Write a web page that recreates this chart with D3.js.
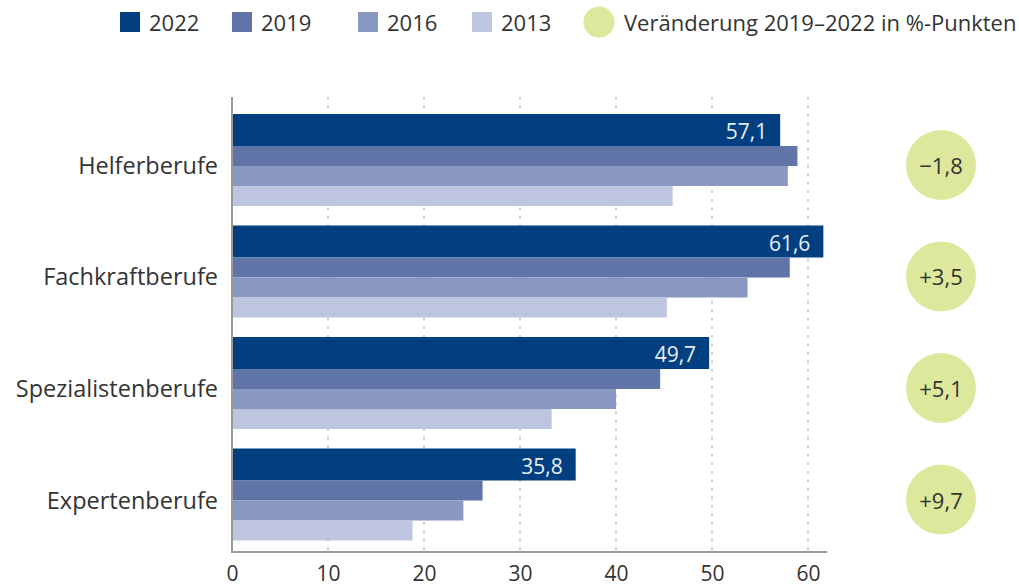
<!DOCTYPE html>
<html>
<head>
<meta charset="utf-8">
<script src="https://cdn.jsdelivr.net/npm/d3@7"></script>
<style>
  body { margin: 0; background: #fff; }
  svg { display: block; font-family: "Open Sans", "Noto Sans", sans-serif; }
</style>
</head>
<body>
<svg class="canvas" width="1019" height="587"></svg>
<script>
"use strict";

const categories = ["Helferberufe", "Fachkraftberufe", "Spezialistenberufe", "Expertenberufe"];
const years = ["2022", "2019", "2016", "2013"];
const values2022 = [57.1, 61.6, 49.7, 35.8];
const values2019 = [58.9, 58.1, 44.6, 26.1];
const values2016 = [57.9, 53.7, 40.0, 24.1];
const values2013 = [45.9, 45.3, 33.3, 18.8];
const changeLabels = ["\u22121,8", "+3,5", "+5,1", "+9,7"];
const legendChange = "Veränderung 2019–2022 in %-Punkten";
const xTicks = [0, 10, 20, 30, 40, 50, 60];

const colors = ["#023f80", "#6074a7", "#8898c1", "#bec5df"];
const textColor = "#333";
const seriesValues = [values2022, values2019, values2016, values2013];

function render() {
  const svg = d3.select("svg");

  const x = d3.scaleLinear().domain([0, 60]).range([232, 808]);
  const y = d3.scaleBand().domain(categories).range([114, 540.5]).paddingInner(0.175);

  // thicker bar for 2022, the rest share the remaining space
  const weights = [1.6, 1, 1, 1];
  const offsets = weights.map((w, i) => d3.sum(weights.slice(0, i)));
  const sub = d3.scaleLinear().domain([0, d3.sum(weights)]).range([0, y.bandwidth()]);

  const axisTop = 97, axisBottom = 552;

  // dotted grid lines
  svg.append("g")
    .selectAll("line")
    .data(xTicks.filter(d => d > 0))
    .enter()
    .append("line")
    .attr("x1", d => x(d))
    .attr("x2", d => x(d))
    .attr("y1", axisTop)
    .attr("y2", axisBottom)
    .attr("stroke", "#b5b5b5")
    .attr("stroke-width", 1.3)
    .attr("stroke-dasharray", "2.5,6");

  // bars
  const rows = [];
  categories.forEach((c, ci) => {
    years.forEach((yr, si) => {
      rows.push({ cat: c, si: si, value: seriesValues[si][ci] });
    });
  });

  svg.append("g")
    .selectAll("rect")
    .data(rows)
    .enter()
    .append("rect")
    .attr("x", x(0))
    .attr("y", d => y(d.cat) + sub(offsets[d.si]))
    .attr("width", d => x(d.value) - x(0))
    .attr("height", d => sub(weights[d.si]))
    .attr("fill", d => colors[d.si]);

  // value labels in the 2022 bars
  svg.append("g")
    .selectAll("text")
    .data(categories)
    .enter()
    .append("text")
    .attr("x", (c, i) => x(values2022[i]) - 13)
    .attr("y", c => y(c) + sub(weights[0]) / 2 + 1)
    .attr("text-anchor", "end")
    .attr("dominant-baseline", "central")
    .attr("fill", "#e8eef6")
    .attr("font-size", 21)
    .text((c, i) => d3.format(".1f")(values2022[i]).replace(".", ","));

  // axis lines
  svg.append("line")
    .attr("x1", x(0)).attr("x2", x(0))
    .attr("y1", axisTop).attr("y2", axisBottom)
    .attr("stroke", "#9a9a9a").attr("stroke-width", 2);
  svg.append("line")
    .attr("x1", x(0) - 1).attr("x2", x(62))
    .attr("y1", axisBottom).attr("y2", axisBottom)
    .attr("stroke", "#9a9a9a").attr("stroke-width", 2);

  // x tick labels
  const xAxis = svg.append("g")
    .attr("transform", `translate(0,${axisBottom})`)
    .call(d3.axisBottom(x).tickValues(xTicks).tickSize(0).tickPadding(14));
  xAxis.select(".domain").remove();
  xAxis.selectAll("text")
    .attr("font-size", 21)
    .attr("font-family", "Open Sans, sans-serif")
    .attr("fill", textColor);

  // category labels
  svg.append("g")
    .selectAll("text")
    .data(categories)
    .enter()
    .append("text")
    .attr("x", 218)
    .attr("y", c => y(c) + y.bandwidth() / 2 + 5)
    .attr("text-anchor", "end")
    .attr("dominant-baseline", "central")
    .attr("font-size", 23.5)
    .attr("fill", textColor)
    .text(c => c);

  // change circles
  const change = svg.append("g")
    .selectAll("g")
    .data(categories)
    .enter()
    .append("g")
    .attr("transform", c => `translate(941,${y(c) + y.bandwidth() / 2 + 5})`);
  change.append("circle").attr("r", 35).attr("fill", "#dde89c");
  change.append("text")
    .attr("text-anchor", "middle")
    .attr("dominant-baseline", "central")
    .attr("font-size", 22)
    .attr("fill", textColor)
    .text((c, i) => changeLabels[i]);

  // legend
  const legendX = [120, 232, 358, 472];
  const legend = svg.append("g")
    .selectAll("g")
    .data(years)
    .enter()
    .append("g")
    .attr("transform", (d, i) => `translate(${legendX[i]},12)`);
  legend.append("rect").attr("width", 20).attr("height", 20).attr("fill", (d, i) => colors[i]);
  legend.append("text")
    .attr("x", 29)
    .attr("y", 10)
    .attr("dominant-baseline", "central")
    .attr("font-size", 22)
    .attr("fill", textColor)
    .text(d => d);

  svg.append("circle").attr("cx", 599).attr("cy", 22).attr("r", 15.5).attr("fill", "#dde89c");
  svg.append("text")
    .attr("x", 624)
    .attr("y", 22)
    .attr("dominant-baseline", "central")
    .attr("font-size", 22)
    .attr("fill", textColor)
    .text(legendChange);
}

window.onload = render;
</script>
</body>
</html>
